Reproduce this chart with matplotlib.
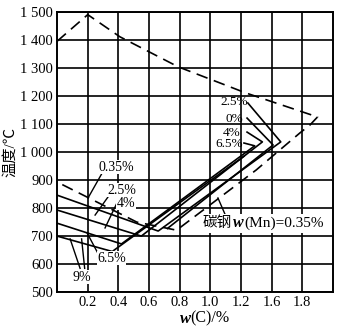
import matplotlib
matplotlib.use("Agg")
import matplotlib.pyplot as plt
from matplotlib.offsetbox import TextArea, HPacker, AnnotationBbox

plt.rcParams['font.family'] = ['Liberation Serif', 'Noto Sans CJK SC', 'DejaVu Sans']

# x tick labels as printed (the original skips 1.4)
x_ticks = [0.2, 0.4, 0.6, 0.8, 1.0, 1.2, 1.4, 1.6]
x_ticklabels = ["0.2", "0.4", "0.6", "0.8", "1.0", "1.2", "1.6", "1.8"]
y_ticks = [500, 600, 700, 800, 900, 1000, 1100, 1200, 1300, 1400, 1500]
y_ticklabels = ["500", "600", "700", "800", "900", "1 000", "1 100",
                "1 200", "1 300", "1 400", "1 500"]

# carbon steel w(Mn)=0.35%  (dashed outline)
steel_c = [0.0, 0.2, 0.41, 0.79, 1.23, 1.70, 1.65, 1.585, 1.30, 0.78, 0.52, 0.0]
steel_t = [1395, 1490, 1411, 1304, 1211, 1125, 1096, 1068, 936, 721, 750, 893]

# solid lines, w(Mn) %
mn25_c = [0.0, 0.66, 1.46, 1.245]
mn25_t = [846, 718, 1036, 1175]
mn0_c = [0.72, 1.41, 1.24]
mn0_t = [727, 1025, 1121]
mn4_c = [0.0, 0.55, 1.34, 1.24]
mn4_t = [793, 700, 1036, 1071]
mn65_c = [0.0, 0.42, 1.29, 1.22]
mn65_t = [746, 672, 1022, 1032]
mn9_c = [0.0, 0.36, 1.22]
mn9_t = [700, 645, 985]

fig = plt.figure(figsize=(3.46, 3.29), dpi=100)
ax = fig.add_axes([0.165, 0.112, 0.797, 0.852])

ax.plot(steel_c, steel_t, color='black', lw=1.2, dashes=(7, 4))
for c, t in [(mn25_c, mn25_t), (mn0_c, mn0_t), (mn4_c, mn4_t),
             (mn65_c, mn65_t), (mn9_c, mn9_t)]:
    ax.plot(c, t, color='black', lw=1.2)

ax.set_xlim(0, 1.8)
ax.set_ylim(500, 1500)
ax.set_xticks(x_ticks)
ax.set_xticklabels(x_ticklabels)
ax.set_yticks(y_ticks)
ax.set_yticklabels(y_ticklabels)
ax.tick_params(length=0, labelsize=10.5, pad=3)
ax.grid(True, color='black', lw=1.2)
for s in ax.spines.values():
    s.set_linewidth(1.4)

fs = 10
wb = dict(fc='white', ec='none', pad=0.3)

# right-hand labels
ax.text(1.245, 1178, "2.5%", ha='right', va='center', fontsize=9.5)
ax.text(1.215, 1118, "0%", ha='right', va='center', fontsize=9.5)
ax.text(1.20, 1066, "4%", ha='right', va='center', fontsize=9.5)
ax.text(1.215, 1028, "6.5%", ha='right', va='center', fontsize=9.5)

# left-hand labels with leaders
ax.text(0.27, 946, "0.35%", ha='left', va='center', fontsize=fs, bbox=wb)
ax.plot([0.294, 0.202], [925, 836], color='black', lw=1.0)
ax.text(0.33, 864, "2.5%", ha='left', va='center', fontsize=fs, bbox=wb)
ax.plot([0.346, 0.248], [850, 775], color='black', lw=1.0)
ax.text(0.39, 818, "4%", ha='left', va='center', fontsize=fs, bbox=wb)
ax.plot([0.40, 0.313], [829, 729], color='black', lw=1.0)
ax.text(0.26, 621, "6.5%", ha='left', va='center', fontsize=fs, bbox=wb)
ax.plot([0.27, 0.196], [635, 711], color='black', lw=1.0)
ax.text(0.10, 554, "9%", ha='left', va='center', fontsize=fs, bbox=wb)
ax.plot([0.15, 0.085], [585, 690], color='black', lw=1.0)
ax.plot([0.18, 0.16], [585, 690], color='black', lw=1.0)

# carbon steel label: 碳钢 w(Mn)=0.35%
parts = HPacker(children=[
    TextArea("碳钢", textprops=dict(fontsize=10.5)),
    TextArea("w", textprops=dict(fontsize=11.5, style='italic', weight='bold')),
    TextArea("(Mn)=0.35%", textprops=dict(fontsize=11)),
], align="baseline", pad=0, sep=0.5)
ab = AnnotationBbox(parts, (0.95, 746), xycoords='data', box_alignment=(0, 0.5),
                    frameon=True, pad=0.1, bboxprops=dict(fc='white', ec='none'))
ax.add_artist(ab)
ax.plot([1.096, 1.05], [778, 836], color='black', lw=1.0)

# x label: w(C)/%
xl = HPacker(children=[
    TextArea("w", textprops=dict(fontsize=12, style='italic', weight='bold')),
    TextArea("(C)/%", textprops=dict(fontsize=11.5)),
], align="baseline", pad=0, sep=0)
ab2 = AnnotationBbox(xl, (0.535, -0.095), xycoords='axes fraction',
                     box_alignment=(0.5, 0.5), frameon=False)
ax.add_artist(ab2)

ax.set_ylabel("温度/℃", fontsize=11, labelpad=2)

fig.savefig("out.png", dpi=100)
